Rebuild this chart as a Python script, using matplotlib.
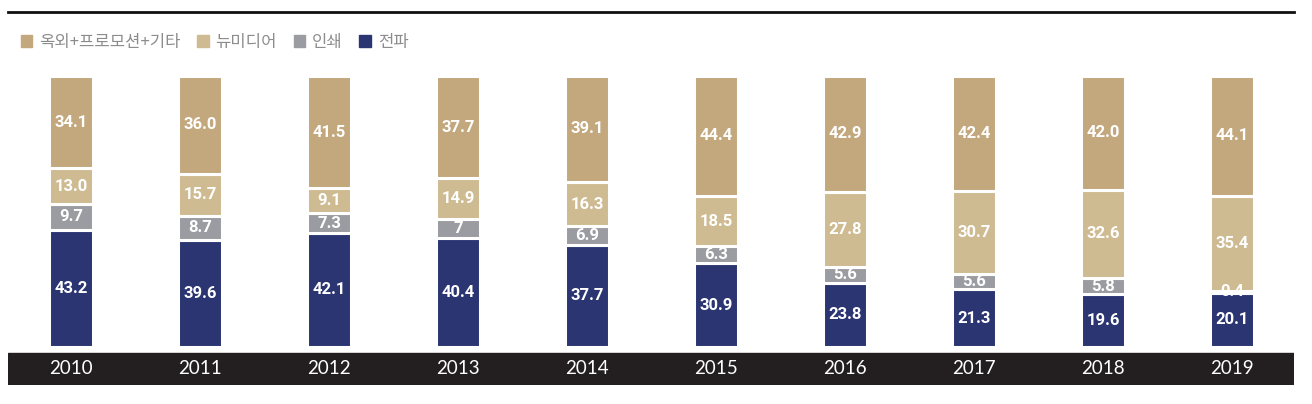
import matplotlib
matplotlib.use("Agg")
import matplotlib.pyplot as plt
import numpy as np
from matplotlib.patches import Patch

plt.rcParams['font.family'] = ['Noto Sans CJK KR', 'DejaVu Sans']

### Data
years = ['2010', '2011', '2012', '2013', '2014', '2015', '2016', '2017', '2018', '2019']
broadcast = [43.2, 39.6, 42.1, 40.4, 37.7, 30.9, 23.8, 21.3, 19.6, 20.1]   # 전파
printed = [9.7, 8.7, 7.3, 7, 6.9, 6.3, 5.6, 5.6, 5.8, 0.4]                # 인쇄
newmedia = [13.0, 15.7, 9.1, 14.9, 16.3, 18.5, 27.8, 30.7, 32.6, 35.4]    # 뉴미디어
outdoor = [34.1, 36.0, 41.5, 37.7, 39.1, 44.4, 42.9, 42.4, 42.0, 44.1]    # 옥외+프로모션+기타

series = [('전파', broadcast, '#2b3572'),
          ('인쇄', printed, '#9b9ca1'),
          ('뉴미디어', newmedia, '#cfbb92'),
          ('옥외+프로모션+기타', outdoor, '#c3a87d')]

W, H = 1312, 404
fig = plt.figure(figsize=(W / 100, H / 100), dpi=100)
ax = fig.add_axes([8 / W, (H - 385) / H, 1286 / W, 373 / H])

x = np.arange(len(years))
bottom = np.zeros(len(years))
for name, vals, col in series:
    vals = np.array(vals, dtype=float)
    ax.bar(x, vals, 0.34, bottom=bottom, color=col, edgecolor='white', linewidth=2.2, zorder=2)
    for xi, b, v in zip(x, bottom, vals):
        lbl = '%.1f' % v
        if v == int(v) and name == '인쇄':
            lbl = '%d' % v
        ax.text(xi, b + v / 2, lbl, ha='center', va='center', color='white',
                fontsize=12, fontweight='bold', family=['Roboto', 'DejaVu Sans'], zorder=3)
    bottom += vals

px = 2.71
ax.set_xlim(-63 / 129, (1286 - 63) / 129)
ax.set_ylim(-(385 - 347) / px, (347 - 12) / px)

# dark year band
ax.axhspan(-(385 - 347) / px, -(353 - 347) / px, color='#231f20', zorder=1)
for xi, yr in zip(x, years):
    ax.text(xi, -(369 - 347) / px, yr, ha='center', va='center', color='white',
            fontsize=13.5, family=['Lato', 'DejaVu Sans'])

for s in ['left', 'right', 'bottom']:
    ax.spines[s].set_visible(False)
ax.spines['top'].set_linewidth(2)
ax.spines['top'].set_color('#111111')
ax.set_xticks([])
ax.set_yticks([])

handles = [Patch(color=col, label=name) for name, vals, col in series[::-1]]
leg = ax.legend(handles=handles, loc='upper left', bbox_to_anchor=(0.006, 0.955), ncol=4,
                frameon=False, fontsize=12, handlelength=0.7, handleheight=0.7,
                handletextpad=0.4, columnspacing=1.0, borderaxespad=0, borderpad=0.3)
for t in leg.get_texts():
    t.set_color('#8c8c8c')

fig.savefig('out.png', dpi=100)
